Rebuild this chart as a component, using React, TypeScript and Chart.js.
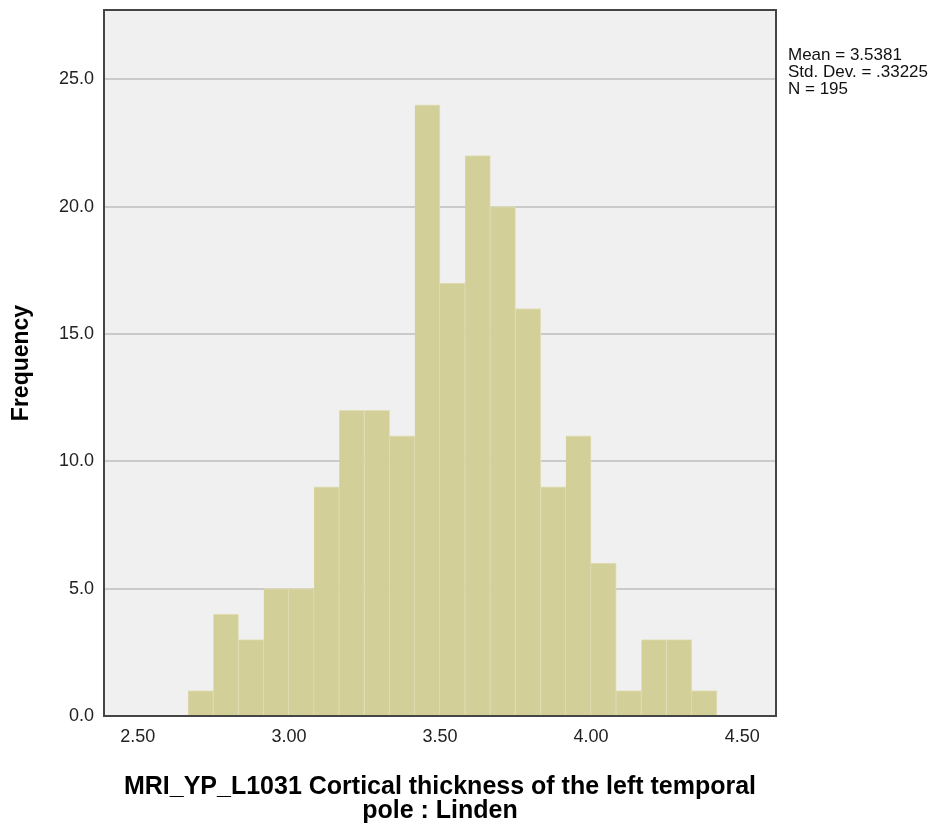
import React, { useEffect, useRef } from 'react';
import { Chart, registerables } from 'chart.js';

Chart.register(...registerables);

// Histogram bins (centres of 1/12-wide bins) and their frequencies
const binCenters = [
  2.7083, 2.7917, 2.875, 2.9583, 3.0417, 3.125, 3.2083, 3.2917, 3.375, 3.4583, 3.5417,
  3.625, 3.7083, 3.7917, 3.875, 3.9583, 4.0417, 4.125, 4.2083, 4.2917, 4.375,
];
const frequencies = [1, 4, 3, 5, 5, 9, 12, 12, 11, 24, 17, 22, 20, 16, 9, 11, 6, 1, 3, 3, 1];

const xTickValues = [2.5, 3.0, 3.5, 4.0, 4.5];
const yTickValues = [0, 5, 10, 15, 20, 25];
const xRange = [2.388, 4.612];
const yRange = [0, 27.72];

const statsLines = ['Mean = 3.5381', 'Std. Dev. = .33225', 'N = 195'];
const xTitle = ['MRI_YP_L1031 Cortical thickness of the left temporal', 'pole : Linden'];
const yTitle = 'Frequency';

const FONT = '"Liberation Sans", Arial, Helvetica, sans-serif';

const framePlugin = {
  id: 'frameAndStats',
  beforeDraw(chart: any) {
    const { ctx, chartArea } = chart;
    ctx.save();
    ctx.fillStyle = '#F0F0F0';
    ctx.fillRect(chartArea.left, chartArea.top, chartArea.right - chartArea.left, chartArea.bottom - chartArea.top);
    ctx.restore();
  },
  afterDraw(chart: any) {
    const { ctx, chartArea } = chart;
    ctx.save();
    ctx.strokeStyle = '#454545';
    ctx.lineWidth = 2;
    ctx.strokeRect(chartArea.left, chartArea.top, chartArea.right - chartArea.left, chartArea.bottom - chartArea.top);
    ctx.fillStyle = '#111';
    ctx.font = `17px ${FONT}`;
    ctx.textAlign = 'left';
    ctx.textBaseline = 'alphabetic';
    statsLines.forEach((line, i) => {
      ctx.fillText(line, chartArea.right + 12, 59.5 + i * 17);
    });
    ctx.restore();
  },
};

export default function App() {
  const canvasRef = useRef<HTMLCanvasElement | null>(null);

  useEffect(() => {
    if (!canvasRef.current) return;
    const chart = new Chart(canvasRef.current, {
      type: 'bar',
      data: {
        datasets: [
          {
            data: binCenters.map((x, i) => ({ x, y: frequencies[i] })),
            backgroundColor: '#D3CF98',
            borderColor: '#E2DFB9',
            borderWidth: { left: 0, right: 1, top: 1, bottom: 0 },
            borderSkipped: false,
            barPercentage: 1,
            categoryPercentage: 1,
          },
        ],
      },
      options: {
        animation: false,
        responsive: true,
        maintainAspectRatio: false,
        devicePixelRatio: 1,
        layout: { padding: { top: 10, right: 165, bottom: 0, left: 0 } },
        plugins: { legend: { display: false }, tooltip: { enabled: false } },
        scales: {
          x: {
            type: 'linear',
            min: xRange[0],
            max: xRange[1],
            offset: false,
            afterBuildTicks: (scale: any) => {
              scale.ticks = xTickValues.map((v) => ({ value: v }));
            },
            afterFit: (scale: any) => {
              scale.height = 111;
              scale.paddingLeft = 0;
              scale.paddingRight = 0;
            },
            grid: { display: false, drawTicks: false, offset: false },
            border: { display: false },
            ticks: {
              padding: 10,
              color: '#222',
              font: { family: FONT, size: 18 },
              maxRotation: 0,
              autoSkip: false,
              callback: (v: any) => Number(v).toFixed(2),
            },
            title: {
              display: true,
              text: xTitle,
              color: '#000',
              font: { family: FONT, size: 25, weight: 'bold', lineHeight: 0.96 },
              padding: { top: 0, bottom: 4 },
            },
          },
          y: {
            type: 'linear',
            min: yRange[0],
            max: yRange[1],
            afterBuildTicks: (scale: any) => {
              scale.ticks = yTickValues.map((v) => ({ value: v }));
            },
            afterFit: (scale: any) => {
              scale.width = 104;
              scale.paddingTop = 0;
              scale.paddingBottom = 0;
            },
            grid: { color: '#CACACA', lineWidth: 2, drawTicks: false },
            border: { display: false },
            ticks: {
              padding: 10,
              color: '#222',
              font: { family: FONT, size: 18 },
              autoSkip: false,
              callback: (v: any) => Number(v).toFixed(1),
            },
            title: {
              display: true,
              text: yTitle,
              color: '#000',
              font: { family: FONT, size: 23, weight: 'bold', lineHeight: 1 },
              padding: { top: 10.5, bottom: 0 },
            },
          },
        },
      },
      plugins: [framePlugin],
    } as any);
    return () => chart.destroy();
  }, []);

  return (
    <div style={{ position: 'absolute', left: 0, top: 0, width: 941, height: 827, background: '#fff' }}>
      <canvas ref={canvasRef} />
    </div>
  );
}
